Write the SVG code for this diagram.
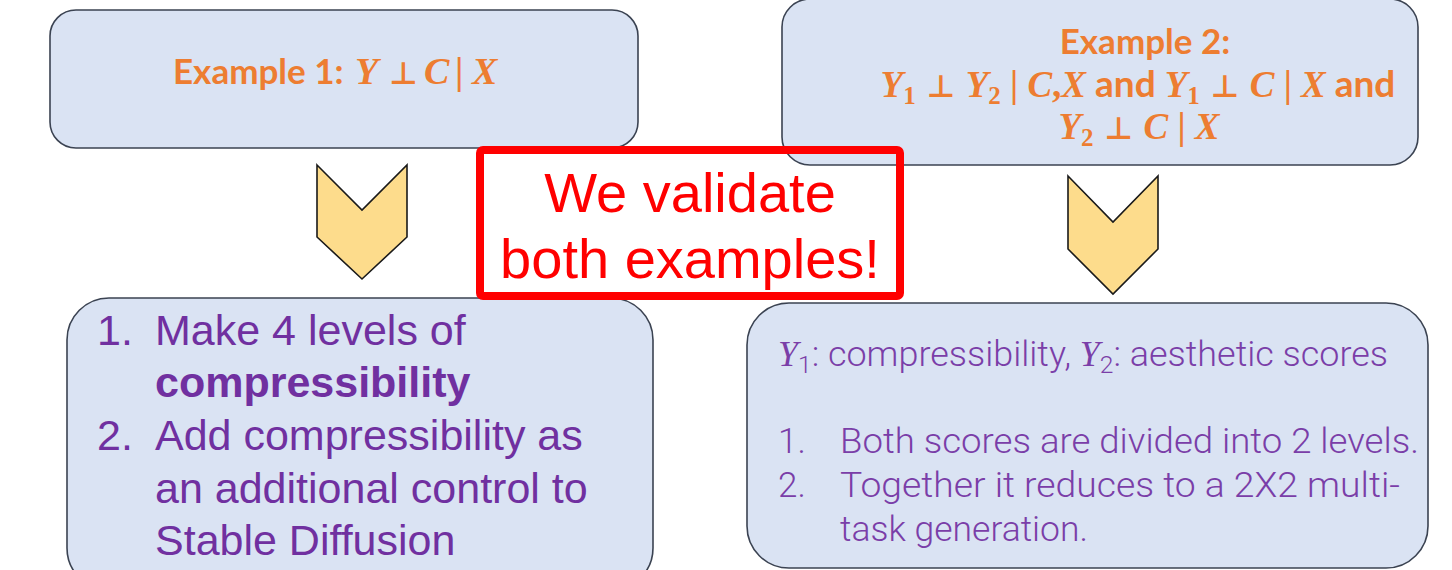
<svg xmlns="http://www.w3.org/2000/svg" width="1452" height="570" viewBox="0 0 1452 570">
  <style>
    .box { fill: #dae3f3; stroke: #3b4352; stroke-width: 1.6; }
    .chev { fill: #fddc8c; stroke: #1a1a1a; stroke-width: 1.6; stroke-linejoin: miter; }
    .ex { font-family: Lato, "Liberation Sans", sans-serif; font-weight: bold; font-size: 35px; fill: #ed7d31; }
    .mth { font-family: "Liberation Serif", serif; font-weight: bold; font-size: 38px; fill: #ed7d31; }
    .mth.sm { font-size: 37px; }
    .mv { font-style: italic; }
    .rel { font-family: "DejaVu Sans", sans-serif; font-size: 31px; }
    .word { font-family: Lato, "Liberation Sans", sans-serif; }
    .call { font-family: "Liberation Sans", Arial, sans-serif; font-size: 56px; fill: #ff0000; }
    .step { font-family: "Liberation Sans", Arial, sans-serif; font-size: 43px; fill: #7030a0; }
    .note { font-family: Roboto, "Noto Sans", sans-serif; font-weight: 300; font-size: 35px; fill: #7a3ea8; }
    .noteY { font-family: "Liberation Serif", serif; font-style: italic; font-weight: normal; }
  </style>

  <rect width="1452" height="570" fill="#ffffff"/>

  <!-- Example 1 heading -->
  <g id="example1">
    <rect class="box" x="50" y="10" width="588" height="138" rx="26"/>
    <text class="ex" x="173" y="84">Example 1:</text>
    <text class="mth" y="84"><tspan class="mv" x="355">Y</tspan><tspan class="rel" x="389">⊥</tspan><tspan x="424" class="mv">C</tspan><tspan x="455">|</tspan><tspan class="mv" x="472">X</tspan></text>
  </g>

  <!-- Example 2 heading -->
  <g id="example2">
    <rect class="box" x="782" y="-1" width="636" height="166" rx="28"/>
    <text class="ex" x="1145" y="54" text-anchor="middle">Example 2:</text>
    <text class="mth sm" x="1138" y="97" text-anchor="middle"><tspan class="mv">Y</tspan><tspan font-size="25" baseline-shift="-7">1</tspan><tspan class="rel"> ⊥ </tspan><tspan class="mv">Y</tspan><tspan font-size="25" baseline-shift="-7">2</tspan> | <tspan class="mv">C</tspan>,<tspan class="mv">X</tspan><tspan class="word"> and </tspan><tspan class="mv">Y</tspan><tspan font-size="25" baseline-shift="-7">1</tspan><tspan class="rel"> ⊥ </tspan><tspan class="mv">C</tspan> | <tspan class="mv">X</tspan><tspan class="word"> and</tspan></text>
    <text class="mth sm" x="1139" y="139" text-anchor="middle"><tspan class="mv">Y</tspan><tspan font-size="25" baseline-shift="-7">2</tspan><tspan class="rel"> ⊥ </tspan><tspan class="mv">C</tspan> | <tspan class="mv">X</tspan></text>
  </g>

  <!-- Down chevrons -->
  <g id="connectors">
    <polygon class="chev" points="317,165 362,210 407,165 407,237 362,279 317,237"/>
    <polygon class="chev" points="1068,176 1113,222 1158,176 1158,249 1113,294 1068,249"/>
  </g>

  <!-- Example 1 procedure -->
  <g id="procedure1">
    <rect class="box" x="67" y="298" width="586" height="292" rx="42"/>
    <text class="step" x="97" y="345">1.</text>
    <text class="step" x="155" y="345">Make 4 levels of</text>
    <text class="step" x="155" y="397" font-weight="bold">compressibility</text>
    <text class="step" x="97" y="450">2.</text>
    <text class="step" x="155" y="450">Add compressibility as</text>
    <text class="step" x="155" y="503">an additional control to</text>
    <text class="step" x="155" y="555">Stable Diffusion</text>
  </g>

  <!-- Example 2 procedure -->
  <g id="procedure2">
    <rect class="box" x="747" y="303" width="681" height="265" rx="42"/>
    <text class="note" x="778" y="366" textLength="610" lengthAdjust="spacingAndGlyphs"><tspan class="noteY">Y</tspan><tspan font-size="24" baseline-shift="-7">1</tspan>: compressibility, <tspan class="noteY">Y</tspan><tspan font-size="24" baseline-shift="-7">2</tspan>: aesthetic scores</text>
    <text class="note" x="778" y="453">1.</text>
    <text class="note" x="840" y="453" textLength="579" lengthAdjust="spacingAndGlyphs">Both scores are divided into 2 levels.</text>
    <text class="note" x="778" y="497">2.</text>
    <text class="note" x="840" y="497" textLength="560" lengthAdjust="spacingAndGlyphs">Together it reduces to a 2X2 multi-</text>
    <text class="note" x="840" y="541" textLength="248" lengthAdjust="spacingAndGlyphs">task generation.</text>
  </g>

  <!-- Highlight callout -->
  <g id="callout">
    <rect x="480" y="150" width="420" height="146" rx="3" fill="none" stroke="#ff0000" stroke-width="8"/>
    <text class="call" x="690" y="212" text-anchor="middle">We validate</text>
    <text class="call" x="690" y="278" text-anchor="middle">both examples!</text>
  </g>
</svg>
